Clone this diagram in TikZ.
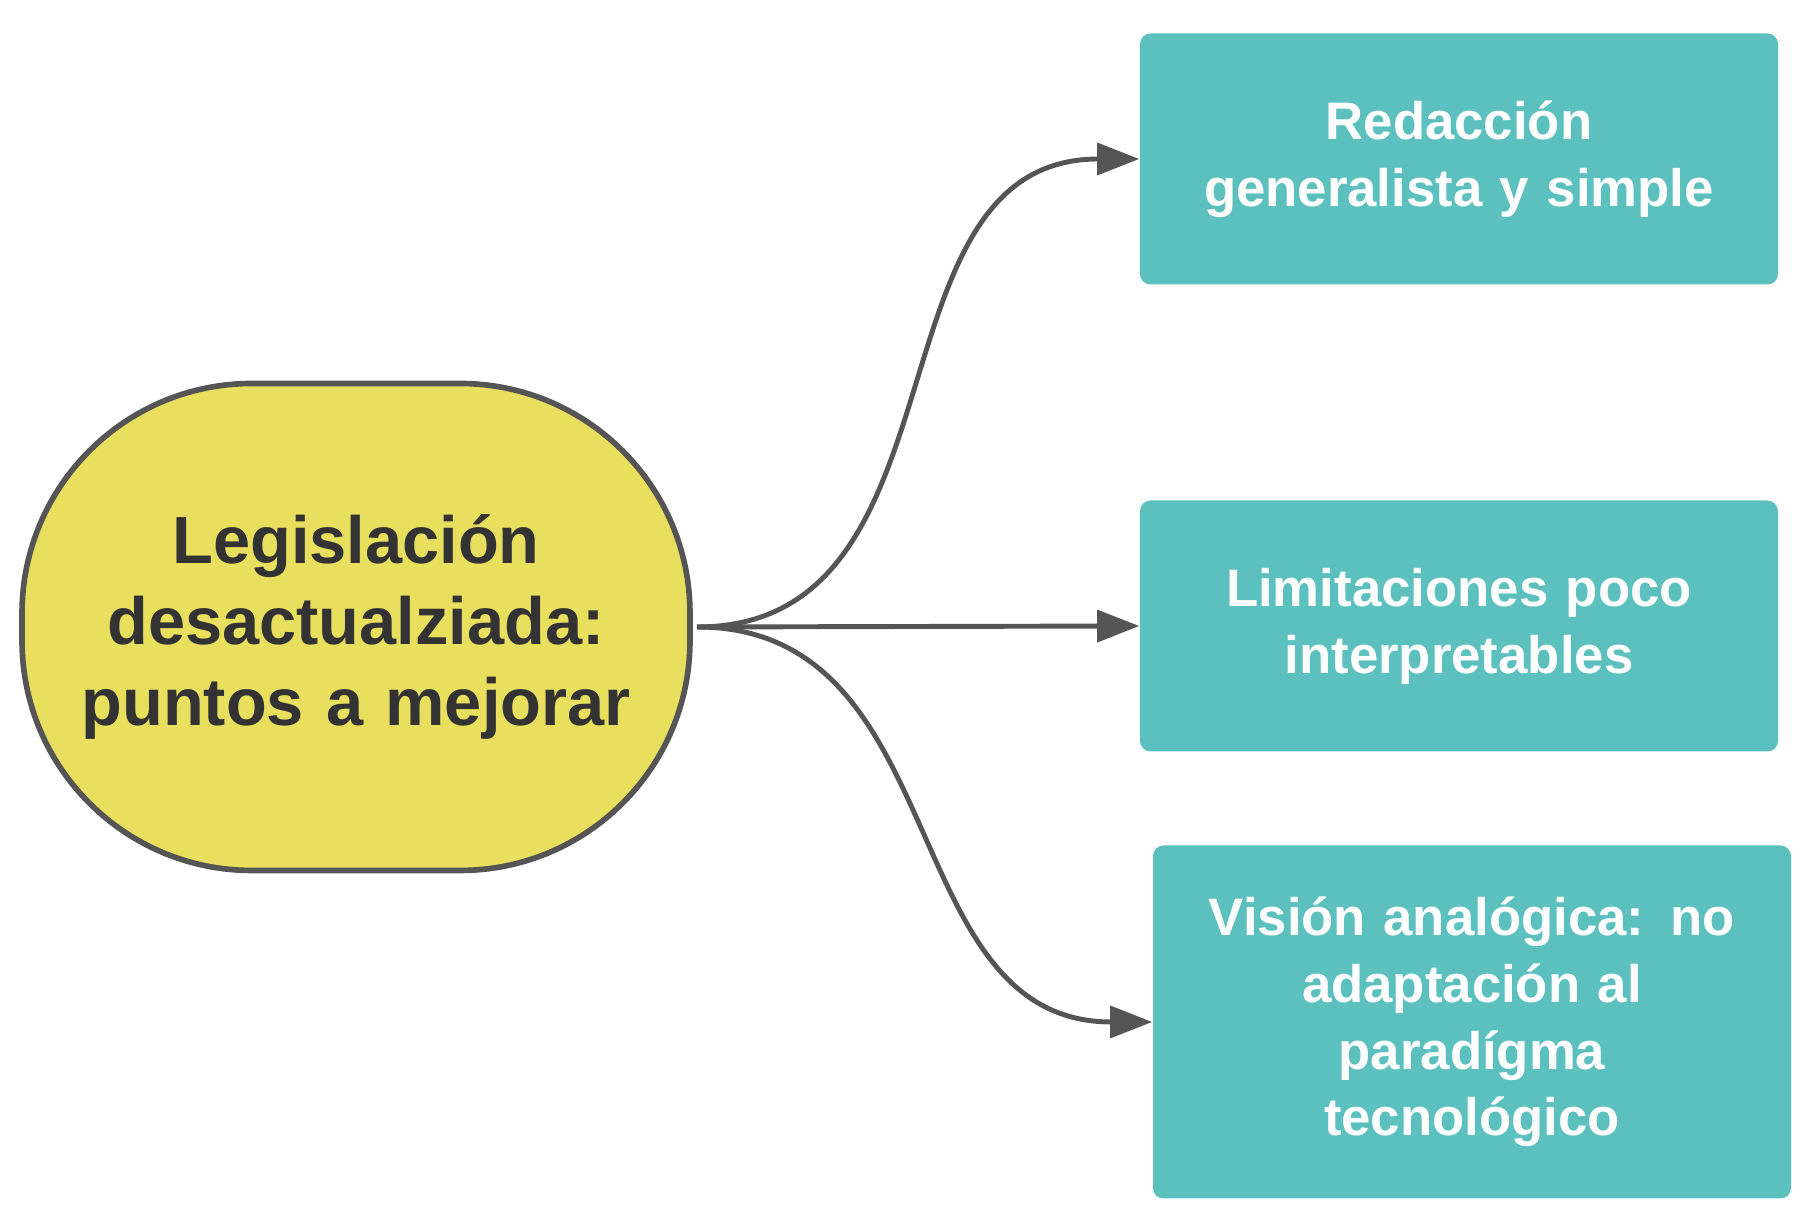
\documentclass[tikz,border=0pt]{standalone}
\usepackage{fontspec}
\setmainfont{Liberation Sans}
\usetikzlibrary{arrows.meta}
\definecolor{topicyellow}{HTML}{E8DF5E}
\definecolor{boxteal}{HTML}{5BC0BE}
\definecolor{linegray}{HTML}{555555}
\tikzset{
  topic/.style={rectangle, rounded corners=2.3cm, minimum width=6.68cm, minimum height=4.87cm, draw=linegray, line width=1.6pt, fill=topicyellow, text=black!80, font=\bfseries\fontsize{19}{23}\selectfont, align=center, text width=6.4cm},
  point/.style={rectangle, rounded corners=3pt, minimum width=6.38cm, fill=boxteal, text=white, font=\bfseries\fontsize{15}{19}\selectfont, align=center, text width=5.9cm},
  arrow/.style={line width=1.4pt, draw=linegray, -{Triangle[length=12pt,width=9pt]}}
}
\begin{document}
\begin{tikzpicture}
\useasboundingbox (0,0) rectangle (18,12.27);
\node (topic) [topic] at (3.56,6.00) {Legislación\\desactualziada:\\puntos a mejorar};
\node (redaccion) [point, minimum height=2.51cm] at (14.59,10.68) {Redacción\\generalista y simple};
\node (limites) [point, minimum height=2.51cm] at (14.59,6.01) {Limitaciones poco\\interpretables};
\node (vision) [point, minimum height=3.53cm] at (14.72,2.05) {Visión analógica: no\\adaptación al\\paradígma\\tecnológico};
\coordinate (start) at (6.97,6.00);
\draw [arrow] (start) to[out=0,in=180,looseness=1.1] (redaccion.west);
\draw [arrow] (start) -- (limites.west);
\draw [arrow] (start) to[out=0,in=180,looseness=1.1] (vision.west);
\end{tikzpicture}
\end{document}
